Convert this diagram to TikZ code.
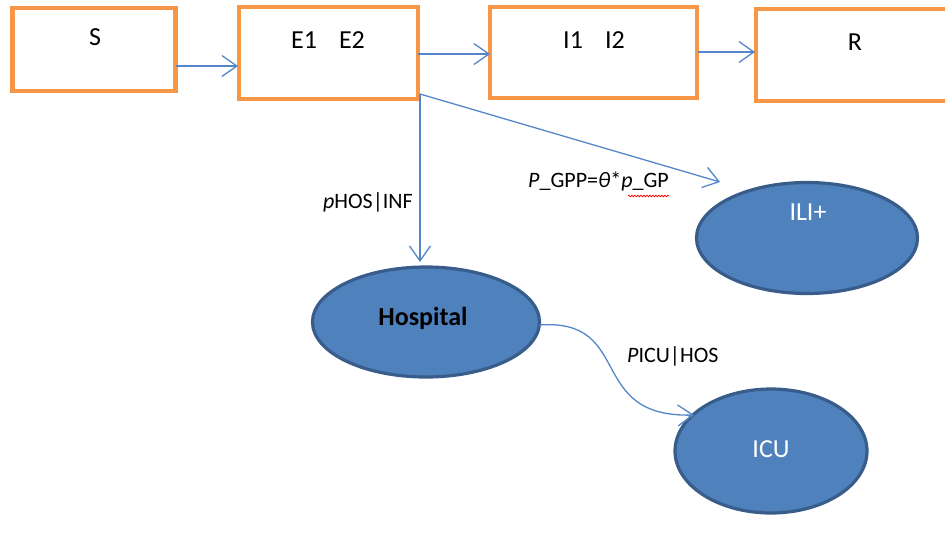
\documentclass[tikz,border=0pt]{standalone}
\usepackage{fontspec}
\setmainfont{Carlito}
\usetikzlibrary{arrows.meta,decorations.pathmorphing,shapes.geometric}
\definecolor{boxorange}{RGB}{247,150,70}
\definecolor{ellfill}{RGB}{79,129,189}
\definecolor{elledge}{RGB}{56,93,138}
\definecolor{arrowblue}{RGB}{84,135,200}
\tikzset{
  stagebox/.style={draw=boxorange, line width=4.8pt, fill=white, inner sep=0pt, rectangle},
  stateell/.style={draw=elledge, line width=3.2pt, fill=ellfill, ellipse, inner sep=0pt},
  boxtext/.style={font=\fontsize{26}{30}\selectfont, anchor=base, inner sep=0pt, text=black},
  elltext/.style={font=\fontsize{26}{30}\selectfont, anchor=base, inner sep=0pt, text=white},
  lbl/.style={font=\fontsize{22}{26}\selectfont, inner sep=0pt, text=black},
  flow/.style={draw=arrowblue, line width=1.3pt, -{Straight Barb[length=15pt,width=21pt,line width=1.3pt]}},
}
\begin{document}
\begin{tikzpicture}[x=1pt,y=-1pt]
\useasboundingbox (0,0) rectangle (945,539);
% stage boxes
\node[stagebox, minimum width=163pt, minimum height=83pt] (S) at (93.75,49.5) {};
\node[stagebox, minimum width=179pt, minimum height=92pt] (E) at (328.5,53) {};
\node[stagebox, minimum width=207pt, minimum height=91pt] (I) at (593.5,52.5) {};
\node[stagebox, minimum width=220pt, minimum height=92pt] (R) at (866,55) {};
\node[boxtext] (St) at (95,45) {S};
\node[boxtext] (Et) at (328,48) {E1\hspace{0.85em}E2};
\node[boxtext] (It) at (594,48) {I1\hspace{0.85em}I2};
\node[boxtext] (Rt) at (855,50) {R};
% ellipses
\node[stateell, minimum width=221pt, minimum height=111pt] (ILI) at (807,238) {};
\node[stateell, minimum width=227pt, minimum height=110pt] (H) at (426,322) {};
\node[stateell, minimum width=192pt, minimum height=124pt] (ICU) at (771,451) {};
\node[elltext] (ILIt) at (808,220) {ILI+};
\node[boxtext, font=\bfseries\fontsize{26}{30}\selectfont] (Ht) at (423,325) {Hospital};
\node[elltext] (ICUt) at (771,457) {ICU};
% connection points
\coordinate (sOut) at (176,66);
\coordinate (eIn) at (238,66);
\coordinate (eOut) at (418,54);
\coordinate (iIn) at (490,54);
\coordinate (iOut) at (698,52);
\coordinate (rIn) at (755,52);
\coordinate (eCorner) at (420,94);
\coordinate (iliIn) at (720,182);
\coordinate (hIn) at (420,262);
\coordinate (hOut) at (539,325);
\coordinate (icuIn) at (694,415);
% connectors
\draw[flow] (sOut) -- (eIn);
\draw[flow] (eOut) -- (iIn);
\draw[flow] (iOut) -- (rIn);
\draw[flow] (eCorner) -- (iliIn);
\draw[flow] (eCorner) -- (hIn);
\draw[flow] (hOut) .. controls (635,318) and (585,418) .. (icuIn);
% labels
\node[lbl, anchor=base east] (l1) at (413,208) {\textit{p}HOS|INF};
\node[lbl, anchor=base west] (l2) at (528,187) {\textit{P}\_GPP=\textit{θ}*\textit{p}\_GP};
\node[lbl, anchor=base west] (l3) at (627,362) {\textit{P}ICU|HOS};
\coordinate (w1) at (628,196);
\coordinate (w2) at (669,196);
\draw[red, line width=0.7pt, decorate, decoration={snake, segment length=3pt, amplitude=0.9pt}] (w1) -- (w2);
\end{tikzpicture}
\end{document}
